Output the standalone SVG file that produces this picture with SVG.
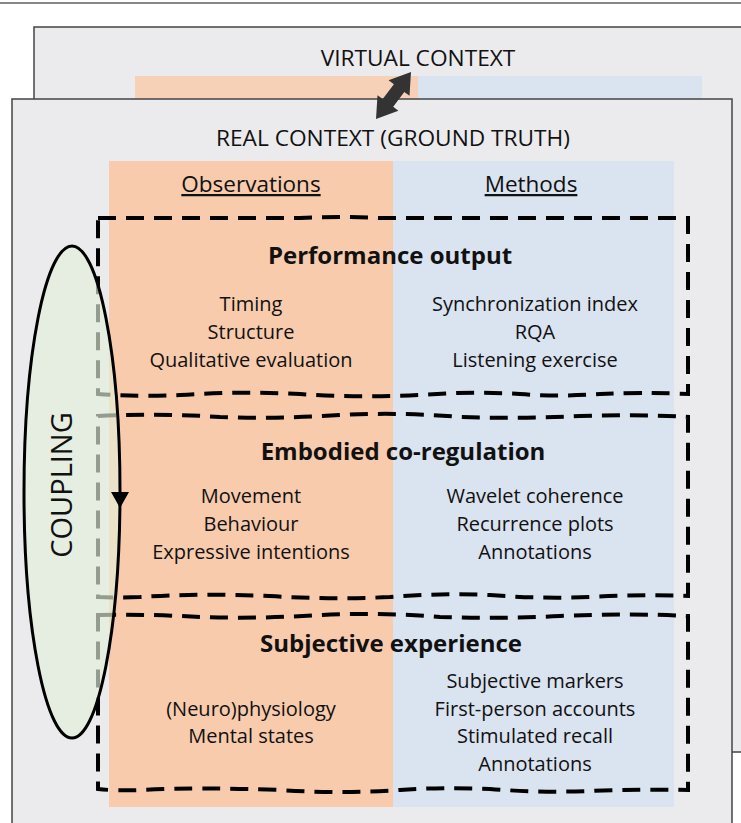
<svg xmlns="http://www.w3.org/2000/svg" width="741" height="823" viewBox="0 0 741 823">
<style>
text{font-family:"Open Sans","Noto Sans",sans-serif;fill:#111;text-anchor:middle}
.ctx{font-size:22.7px}
.hdr{font-size:22.5px;text-decoration:underline}
.ttl{font-size:24px;font-weight:bold}
.itm{font-size:20px}
.dash{fill:none;stroke:#000;stroke-width:4;stroke-dasharray:18 10}
.obs{fill:#f8cbad}
.met{fill:#dae3f0}
</style>
<rect x="0" y="0" width="741" height="823" fill="#fff"/>
<line x1="0" y1="3" x2="741" y2="3" stroke="#888" stroke-width="2"/>
<g id="virtual-context">
<rect x="34" y="27" width="720" height="725" fill="#ebebed" stroke="#444" stroke-width="1.5"/>
<rect class="obs" x="135" y="76" width="283" height="30" opacity="0.85"/>
<rect class="met" x="418" y="76" width="284" height="30"/>
<text class="ctx" x="418" y="66">VIRTUAL CONTEXT</text>
</g>
<g id="real-context">
<rect x="12" y="99" width="720" height="740" fill="#ebebed" stroke="#444" stroke-width="1.5"/>
<rect class="obs" x="109" y="161" width="284" height="646"/>
<rect class="met" x="393" y="161" width="281" height="646"/>
<text class="ctx" x="393" y="146">REAL CONTEXT (GROUND TRUTH)</text>
<text class="hdr" x="251" y="192">Observations</text>
<text class="hdr" x="531" y="192">Methods</text>
</g>
<g id="connectors">
<polygon points="411,72 409.5,95.8 404.3,91.9 393.2,106.8 398.4,110.7 376,119 377.5,95.2 382.7,99.1 393.9,84.2 388.6,80.3" fill="#333"/>
</g>
<g id="performance-output">
<path class="dash" d="M98,218 L300,218 Q340,216 380,218 L688,218 L688,394 Q640,392 600,394 Q560,397 520,394 Q470,391 420,395 Q360,398 300,394 Q240,391 180,395 Q140,397 98,394 Z"/>
<text class="ttl" x="390" y="264">Performance output</text>
<text class="itm" x="251" y="311">Timing</text>
<text class="itm" x="251" y="339">Structure</text>
<text class="itm" x="251" y="367">Qualitative evaluation</text>
<text class="itm" x="535" y="311">Synchronization index</text>
<text class="itm" x="535" y="339">RQA</text>
<text class="itm" x="535" y="367">Listening exercise</text>
</g>
<g id="embodied-co-regulation">
<path class="dash" d="M98,416 Q160,413 220,417 Q280,419 340,415 Q400,412 460,417 Q520,419 580,416 Q640,414 688,417 L688,596 Q640,594 590,597 Q540,599 490,595 Q440,593 390,597 Q330,600 270,596 Q200,593 140,597 Q115,598 98,597 Z"/>
<text class="ttl" x="403" y="460">Embodied co-regulation</text>
<text class="itm" x="251" y="503">Movement</text>
<text class="itm" x="251" y="531">Behaviour</text>
<text class="itm" x="251" y="559">Expressive intentions</text>
<text class="itm" x="535" y="503">Wavelet coherence</text>
<text class="itm" x="535" y="531">Recurrence plots</text>
<text class="itm" x="535" y="559">Annotations</text>
</g>
<g id="subjective-experience">
<path class="dash" d="M98,615 Q150,614 200,617 Q260,619 320,615 Q380,612 440,617 Q500,619 560,616 Q630,613 688,616 L688,790 Q640,789 590,791 Q540,793 490,789 Q440,787 400,790 Q340,794 280,790 Q200,787 140,790 Q115,791 98,789 Z"/>
<text class="ttl" x="391" y="652">Subjective experience</text>
<text class="itm" x="251" y="716">(Neuro)physiology</text>
<text class="itm" x="251" y="743">Mental states</text>
<text class="itm" x="535" y="688">Subjective markers</text>
<text class="itm" x="535" y="716">First-person accounts</text>
<text class="itm" x="535" y="743">Stimulated recall</text>
<text class="itm" x="535" y="771">Annotations</text>
</g>
<g id="coupling">
<ellipse cx="72" cy="492" rx="48" ry="246" fill="#e2efda" fill-opacity="0.65" stroke="#000" stroke-width="3"/>
<polygon points="111,492 129,492 120,508" fill="#000"/>
<text x="62" y="485" transform="rotate(-90 62 485)" font-size="29" dy="10">COUPLING</text>
</g>
</svg>
